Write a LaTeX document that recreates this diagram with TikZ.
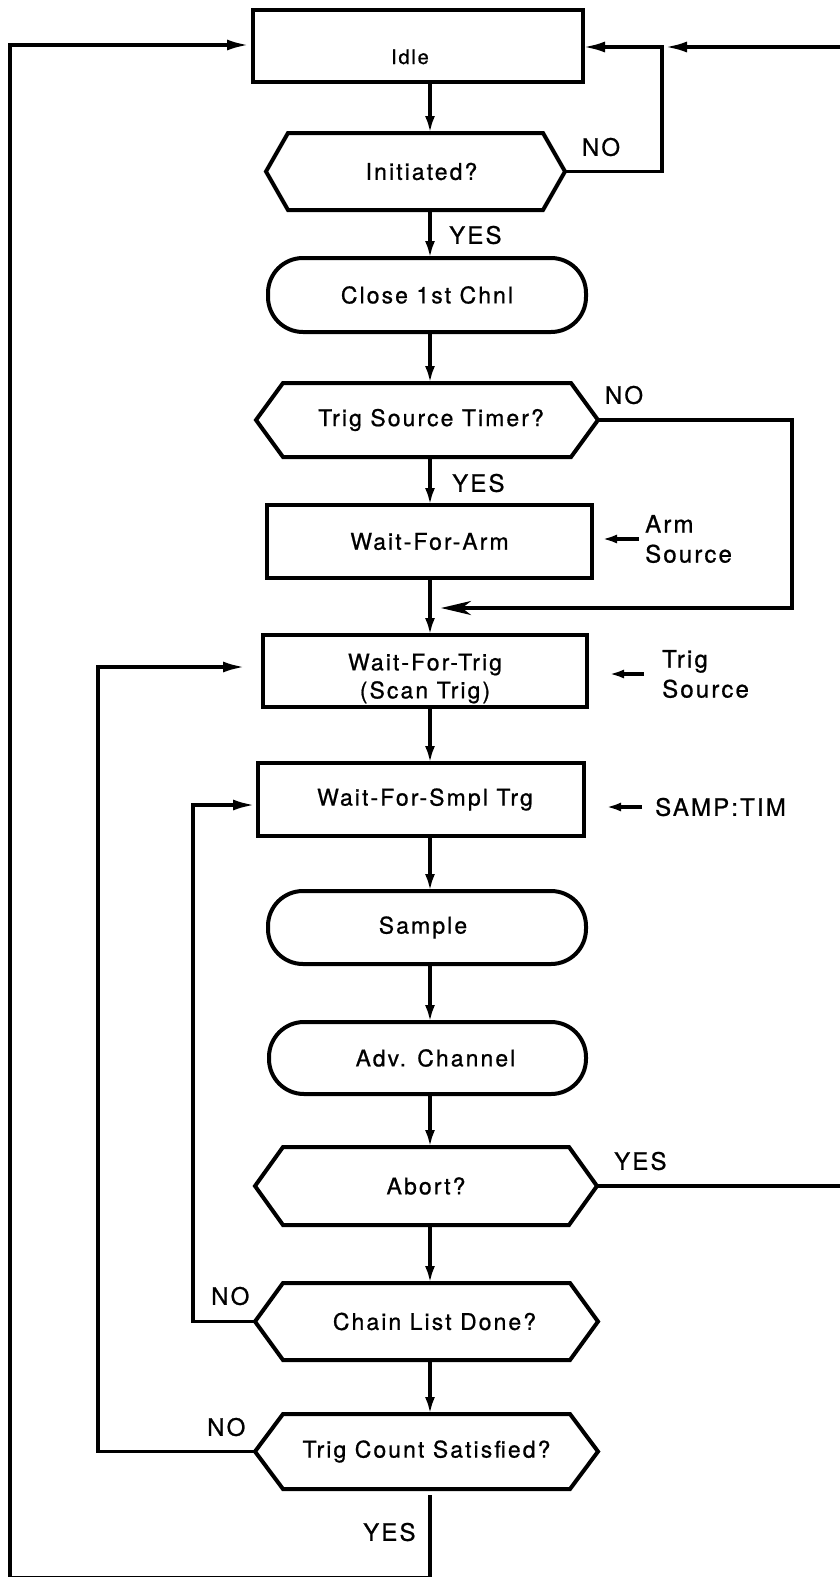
\documentclass[tikz,border=0pt]{standalone}
\usepackage{fontspec}
\setmainfont{TeX Gyre Heros}[LetterSpace=9,FakeBold=0.8]
\usetikzlibrary{arrows.meta,calc}
\newcommand\hexpath[2]{%
  \draw[boxline] (#1.north west) -- (#1.north east) -- ([xshift=#2]#1.east) -- (#1.south east) -- (#1.south west) -- ([xshift=-#2]#1.west) -- cycle;
  \coordinate (#1-E) at ([xshift=#2]#1.east);
  \coordinate (#1-W) at ([xshift=-#2]#1.west);}
\tikzset{
  boxline/.style={line width=4pt, line join=miter},
  txt/.style={font=\fontsize{23}{28}\selectfont, align=center},
  procbox/.style={draw, boxline, txt, inner sep=0pt, outer sep=0pt},
  termbox/.style={procbox, rounded corners=35pt},
  hexbody/.style={txt, inner sep=0pt, outer sep=0pt},
  conn/.style={line width=3.5pt, line join=miter},
  lab/.style={font=\fontsize{24}{30}\selectfont, inner sep=0pt},
  sidelab/.style={lab, anchor=west, align=left},
  tipA/.style={-{Latex[length=17pt,width=10pt]}},
  tipB/.style={-{Latex[length=22pt,width=11pt]}},
  tipC/.style={-{Stealth[length=30pt,width=14pt,inset=9pt]}},
  tipS/.style={-{Latex[length=15pt,width=9pt]}}
}
\begin{document}
\begin{tikzpicture}[x=1pt,y=-1pt]
\useasboundingbox (0,0) rectangle (839,1577);
\fill[white] (0,0) rectangle (839,1577);
% nodes
\node[procbox, minimum width=330pt, minimum height=72pt] (idle) at (418,46) {\raisebox{-18pt}[0pt][0pt]{\fontsize{20}{24}\selectfont Idle}\hspace*{16pt}};
\node[hexbody, minimum width=255pt, minimum height=77pt] (init) at (415.5,171.5) {\hspace*{12pt}Initiated?};
\node[termbox, minimum width=318pt, minimum height=74pt] (close) at (427,295) {Close 1st Chnl};
\node[hexbody, minimum width=288pt, minimum height=74pt] (tst) at (427,420) {\hspace*{8pt}Trig Source Timer?};
\node[procbox, minimum width=325pt, minimum height=73pt] (wfa) at (429.5,541.5) {Wait-For-Arm};
\node[procbox, minimum width=324pt, minimum height=72pt] (wft) at (425,671) {\raisebox{-14pt}[0pt][0pt]{\begin{tabular}{@{}c@{}}Wait-For-Trig\\(Scan Trig)\end{tabular}}};
\node[procbox, minimum width=326pt, minimum height=73pt] (wfs) at (421,799.5) {\hspace*{8pt}Wait-For-Smpl Trg};
\node[termbox, minimum width=318pt, minimum height=73pt] (sample) at (427,927.5) {Sample\hspace*{8pt}};
\node[termbox, minimum width=317pt, minimum height=72pt] (adv) at (427.5,1058) {\hspace*{16pt}Adv. Channel};
\node[hexbody, minimum width=286pt, minimum height=78pt] (abort) at (426,1186) {Abort?};
\node[hexbody, minimum width=287pt, minimum height=77pt] (chain) at (426.5,1321.5) {\hspace*{16pt}Chain List Done?};
\node[hexbody, minimum width=287pt, minimum height=75pt] (tc) at (426.5,1451.5) {Trig Count Satisfied?};
\hexpath{init}{22pt}
\hexpath{tst}{27pt}
\hexpath{abort}{28pt}
\hexpath{chain}{28pt}
\hexpath{tc}{28pt}
% side inputs
\node[sidelab, inner xsep=6pt] (arm) at (639,539) {Arm\\Source};
\node[sidelab, inner xsep=18pt] (tsrc) at (644,674) {Trig\\Source};
\node[sidelab, inner xsep=13pt] (samp) at (642,807) {SAMP:TIM};
% labels
\node[lab] (no1) at (601,147) {NO};
\node[lab, anchor=west] (yes1) at (449,235) {YES};
\node[lab] (no2) at (624,395) {NO};
\node[lab, anchor=west] (yes2) at (452,483) {YES};
\node[lab, anchor=west] (yes3) at (614,1161) {YES};
\node[lab, anchor=west] (no3) at (211,1296) {NO};
\node[lab, anchor=west] (no4) at (207,1427) {NO};
\node[lab, anchor=west] (yes4) at (363,1532) {YES};
% coordinates
\coordinate (ax) at (430,0);
\coordinate (r1) at (662,47);
\coordinate (redge) at (847,47);
\coordinate (r2) at (792,608);
\coordinate (l1) at (10,45);
\coordinate (l2) at (98,667);
\coordinate (l3) at (193,805);
\coordinate (bot) at (0,1578);
% main flow
\draw[conn,tipA] (idle.south -| ax) -- (init.north -| ax);
\draw[conn,tipA] (init.south -| ax) -- (close.north -| ax);
\draw[conn,tipA] (close.south -| ax) -- (tst.north -| ax);
\draw[conn,tipA] (tst.south -| ax) -- (wfa.north -| ax);
\draw[conn,tipA] (wfa.south -| ax) -- (wft.north -| ax);
\draw[conn,tipA] (wft.south -| ax) -- (wfs.north -| ax);
\draw[conn,tipA] (wfs.south -| ax) -- (sample.north -| ax);
\draw[conn,tipA] (sample.south -| ax) -- (adv.north -| ax);
\draw[conn,tipA] (adv.south -| ax) -- (abort.north -| ax);
\draw[conn,tipA] (abort.south -| ax) -- (chain.north -| ax);
\draw[conn,tipA] (chain.south -| ax) -- (tc.north -| ax);
% loops
\draw[conn,tipB] (init-E) -| (r1) -- (r1 -| idle.east);
\draw[conn,tipB,shorten >=3pt] (abort-E) -- (abort-E -| redge) -- (redge) -- (r1);
\draw[conn,tipC,shorten >=11pt] (tst-E) -| (r2) -- (r2 -| ax);
\draw[conn,tipB,shorten >=4pt,shorten <=6pt] (tc.south -| ax) -- (ax |- bot) -- (l1 |- bot) -- (l1) -- (l1 -| idle.west);
\draw[conn,tipB,shorten >=18pt] (tc-W) -| (l2) -- (l2 -| wft.west);
\draw[conn,tipB,shorten >=3pt] (chain-W) -| (l3) -- (l3 -| wfs.west);
% side arrows
\draw[conn,tipS,shorten >=10pt] (arm.west) -- (arm.west -| wfa.east);
\draw[conn,tipS,shorten >=22pt] (tsrc.west) -- (tsrc.west -| wft.east);
\draw[conn,tipS,shorten >=22pt] (samp.west) -- (samp.west -| wfs.east);
\end{tikzpicture}
\end{document}
